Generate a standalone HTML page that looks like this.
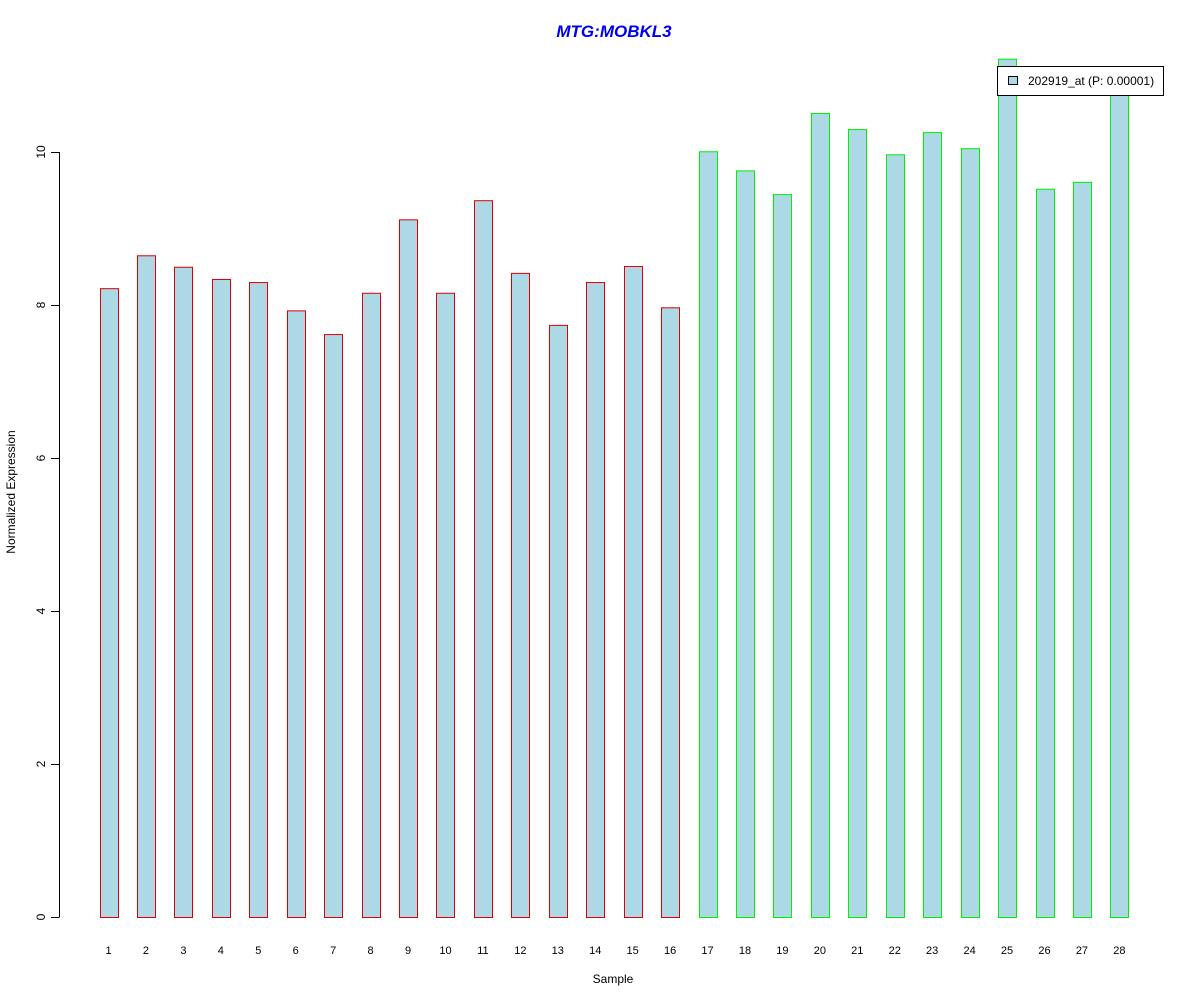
<!DOCTYPE html>
<html><head><meta charset="utf-8"><style>
body{margin:0;background:#fff;}
svg{display:block;font-family:"Liberation Sans",Arial,sans-serif;}
</style></head><body>
<svg width="1200" height="1000">
<text x="614" y="37" text-anchor="middle" font-size="17" font-weight="bold" font-style="italic" fill="#0000ee">MTG:MOBKL3</text>
<text x="613" y="983" text-anchor="middle" font-size="12">Sample</text>
<text transform="translate(15,492) rotate(-90)" text-anchor="middle" font-size="12">Normalized Expression</text>
<g id="yaxis"></g>
<g id="bars"></g>
<g id="xlabels"></g>
<g>
<rect x="997.5" y="66.5" width="166" height="29" fill="#fff" stroke="#000"/>
<rect x="1008.5" y="76.5" width="9" height="8" fill="#add8e6" stroke="#000"/>
<text x="1028" y="85" font-size="12">202919_at (P: 0.00001)</text>
</g>
</svg>
<script>
const categories=["1","2","3","4","5","6","7","8","9","10","11","12","13","14","15","16","17","18","19","20","21","22","23","24","25","26","27","28"];
const values=[8.22,8.65,8.50,8.34,8.30,7.93,7.62,8.16,9.12,8.16,9.37,8.42,7.74,8.30,8.51,7.97,10.01,9.76,9.45,10.51,10.30,9.97,10.26,10.05,11.22,9.52,9.61,11.0];
const groups=[0,0,0,0,0,0,0,0,0,0,0,0,0,0,0,0,1,1,1,1,1,1,1,1,1,1,1,1];
const yTicks=[0,2,4,6,8,10];
const NS="http://www.w3.org/2000/svg";
function yS(v){return 917-v*76.5;}
function xS(i){return 108.5+i*37.44;}
const ya=document.getElementById('yaxis');
function mk(t,a,p){const e=document.createElementNS(NS,t);for(const k in a)e.setAttribute(k,a[k]);p.appendChild(e);return e;}
const al=mk('line',{x1:59.5,x2:59.5,y1:yS(10),y2:yS(0),stroke:'#000'},ya);


yTicks.forEach(v=>{
 const l=mk('line',{x1:51,x2:59.5,y1:yS(v)+0.5,y2:yS(v)+0.5,stroke:'#000'},ya);
 
 
 const t=mk('text',{transform:`translate(45,${yS(v)}) rotate(-90)`,'text-anchor':'middle','font-size':12},ya);
 t.textContent=v;
 
 
});
const bg=document.getElementById('bars'),xg=document.getElementById('xlabels');
values.forEach((v,i)=>{
 const cx=xS(i);
 const r=mk('rect',{x:Math.round(cx-9)+0.5,y:yS(v)+0.5,width:18,height:v*76.5,fill:'#add8e6',stroke:groups[i]?'#00ee00':'#dd0000'},bg);
 
 
 const t=mk('text',{x:cx,y:954,'text-anchor':'middle','font-size':11},xg);
 t.textContent=categories[i];
 
 
});
</script>
</body></html>
